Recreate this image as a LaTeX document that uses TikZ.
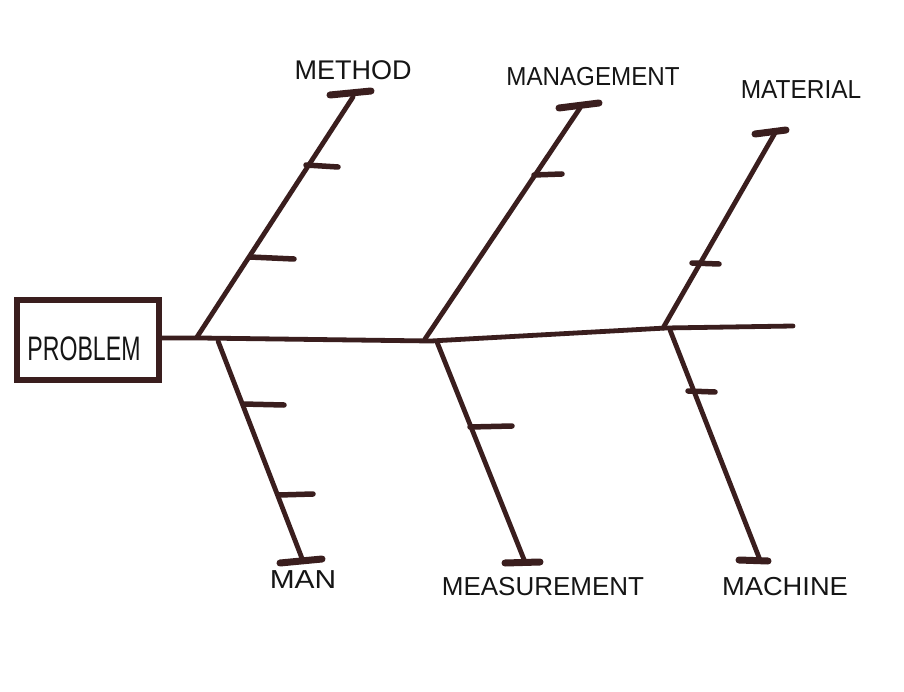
\documentclass[tikz,border=0pt]{standalone}
\usepackage{fontspec}
\setmainfont{Liberation Sans}
\definecolor{ink}{HTML}{3A1E1E}
\definecolor{txt}{HTML}{151515}
\begin{document}
\begin{tikzpicture}[x=1pt,y=-1pt,
  bone/.style={draw=ink,line width=4.8pt,line cap=round,line join=round},
  capline/.style={draw=ink,line width=7pt,line cap=round},
  tick/.style={draw=ink,line width=5.5pt,line cap=round},
  lab/.style={text=txt,font=\fontsize{26}{26}\selectfont,inner sep=0pt}]
\useasboundingbox[fill=white] (0,0) rectangle (904,692);

% problem box
\node[draw=ink,line width=5.5pt,minimum width=142pt,minimum height=80pt,inner sep=0pt] (problem) at (88,340) {};
\node[lab,xscale=0.68,font=\fontsize{34}{34}\selectfont] (ptext) at (84,349) {PROBLEM};

% spine
\coordinate (s1) at (200,338);
\coordinate (s2) at (431,341);
\coordinate (s3) at (666,328);
\coordinate (tail) at (793,326);
\draw[bone] (problem.east |- s1) -- (s1) -- (s2) -- (s3) -- (tail);

% upper bones
\coordinate (mb) at (197,337); \coordinate (mt) at (353,97);
\coordinate (gb) at (425,339); \coordinate (gt) at (580,108);
\coordinate (tb) at (663,328); \coordinate (tt) at (775,133);
\draw[bone] (mb) -- (mt);
\draw[bone] (gb) -- (gt);
\draw[bone] (tb) -- (tt);

% lower bones
\coordinate (nb) at (218,341); \coordinate (nt) at (303,561);
\coordinate (eb) at (437,342); \coordinate (et) at (525,562);
\coordinate (cb) at (670,330); \coordinate (ct) at (760,560);
\draw[bone] (nb) -- (nt);
\draw[bone] (eb) -- (et);
\draw[bone] (cb) -- (ct);

% caps
\coordinate (mc1) at (330,95); \coordinate (mc2) at (371,91);
\coordinate (gc1) at (559,108); \coordinate (gc2) at (599,103);
\coordinate (tc1) at (755,134); \coordinate (tc2) at (786,130);
\coordinate (nc1) at (280,563); \coordinate (nc2) at (322,559);
\coordinate (ec1) at (505,563); \coordinate (ec2) at (540,562);
\coordinate (cc1) at (739,560); \coordinate (cc2) at (768,561);
\draw[capline] (mc1) -- (mc2);
\draw[capline] (gc1) -- (gc2);
\draw[capline] (tc1) -- (tc2);
\draw[capline] (nc1) -- (nc2);
\draw[capline] (ec1) -- (ec2);
\draw[capline] (cc1) -- (cc2);

% ticks
\coordinate (m1a) at (306,165); \coordinate (m1b) at (338,167);
\coordinate (m2a) at (250,257); \coordinate (m2b) at (294,259);
\coordinate (g1a) at (534,175); \coordinate (g1b) at (562,174);
\coordinate (t1a) at (692,263); \coordinate (t1b) at (719,264);
\coordinate (n1a) at (243,404); \coordinate (n1b) at (284,405);
\coordinate (n2a) at (279,495); \coordinate (n2b) at (313,494);
\coordinate (e1a) at (470,427); \coordinate (e1b) at (512,426);
\coordinate (c1a) at (688,391); \coordinate (c1b) at (715,392);
\draw[tick] (m1a) -- (m1b);
\draw[tick] (m2a) -- (m2b);
\draw[tick] (g1a) -- (g1b);
\draw[tick] (t1a) -- (t1b);
\draw[tick] (n1a) -- (n1b);
\draw[tick] (n2a) -- (n2b);
\draw[tick] (e1a) -- (e1b);
\draw[tick] (c1a) -- (c1b);

% labels
\node[lab,font=\fontsize{27}{27}\selectfont] (lmethod) at (353,70) {METHOD};
\node[lab,xscale=0.93] (lmanage) at (593,77) {MANAGEMENT};
\node[lab,xscale=0.94] (lmaterial) at (801,90) {MATERIAL};
\node[lab,xscale=1.15] (lman) at (303,580) {MAN};
\node[lab] (lmeasure) at (543,587) {MEASUREMENT};
\node[lab,xscale=1.05] (lmachine) at (785,587) {MACHINE};
\end{tikzpicture}
\end{document}
